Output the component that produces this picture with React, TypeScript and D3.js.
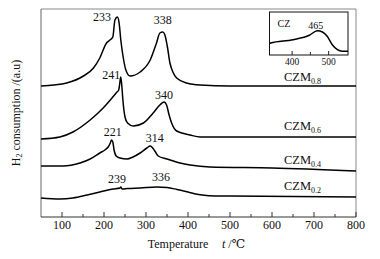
import React from "react";
import * as d3 from "d3";

// ---- data (temperature °C, H2 consumption a.u.) ----
const czm08T = [50, 80, 111, 151, 175, 190, 206, 214, 221, 226, 232, 236, 240, 246, 252, 262, 286, 310, 325, 333, 340, 345, 351, 357, 364, 373, 397, 429, 500, 600, 800];
const czm08V = [131, 132, 134, 141, 149, 159, 174, 177, 180, 197, 200, 194, 177, 159, 147, 141, 145, 157, 174, 184, 185, 182, 170, 154, 145, 139, 134, 132, 131, 131, 131];

const czm06T = [50, 95, 126, 167, 198, 219, 231, 235, 237, 240, 243, 245, 250, 256, 270, 294, 317, 333, 343, 349, 355, 361, 373, 405, 429, 600, 800];
const czm06V = [78, 80, 85, 97, 109, 119, 125, 127, 132, 140, 128, 117, 100, 94, 91, 94, 104, 112, 115, 112, 102, 94, 86, 82, 80, 80, 80];

const czm04T = [50, 102, 143, 167, 190, 202, 210, 215, 218, 221, 224, 229, 238, 255, 269, 286, 302, 310, 321, 329, 350, 381, 405, 452, 600, 800];
const czm04V = [51, 51, 54, 58, 64, 67, 70, 74, 77, 75, 67, 61, 59, 58, 60, 64, 69, 71, 66, 61, 58, 54, 52, 50, 49, 46];

const czm02T = [50, 95, 126, 160, 190, 221, 238, 240, 243, 246, 255, 286, 326, 350, 374, 400, 425, 450, 500, 800];
const czm02V = [19, 18, 19, 22, 25, 28, 29, 30, 28, 28, 28.5, 29, 30, 29.5, 27.5, 25, 22.5, 21.3, 21, 20];

const czT = [338, 341, 402, 447, 469, 483, 496, 510, 524, 537, 553];
const czV = [11.5, 12, 15.3, 19.7, 24.3, 23, 18.7, 10.3, 5.3, 3.7, 3.7];

const seriesNames = ["0.8", "0.6", "0.4", "0.2"];
const seriesT = [czm08T, czm06T, czm04T, czm02T];
const seriesV = [czm08V, czm06V, czm04V, czm02V];

const peakText = ["233", "338", "241", "340", "221", "314", "239", "336"];
const peakT = [195, 340, 217, 343, 221, 321, 231, 336];
const peakV = [196, 193, 138, 118, 81, 75, 34, 36];

const xTicks = [100, 200, 300, 400, 500, 600, 700, 800];
const xMinorTicks = [150, 250, 350, 450, 550, 650, 750];
const insetTicks = [400, 500];
const insetMinor = [450];

const W = 380;
const H = 259;
const serif = "'Liberation Serif', 'DejaVu Serif', serif";

export default function App() {
  const m = { left: 41, right: 356, top: 9, bottom: 217 };
  const x = d3.scaleLinear().domain([50, 800]).range([m.left, m.right]);
  const y = d3.scaleLinear().domain([0, 208]).range([m.bottom, m.top]);

  const ib = { left: 269.5, right: 348, top: 12, bottom: 55 };
  const xi = d3.scaleLinear().domain([338, 553]).range([ib.left, ib.right]);
  const yi = d3.scaleLinear().domain([0, 43]).range([ib.bottom, ib.top]);

  const line = d3
    .line<[number, number]>()
    .x((d) => x(d[0]))
    .y((d) => y(d[1]))
    .curve(d3.curveMonotoneX);
  const lineI = d3
    .line<[number, number]>()
    .x((d) => xi(d[0]))
    .y((d) => yi(d[1]))
    .curve(d3.curveMonotoneX);

  const ts = { fontFamily: serif };

  return (
    <svg
      width={W}
      height={H}
      style={{ position: "absolute", left: 0, top: 0, background: "#fff", fontFamily: serif }}
    >
      <rect x={0} y={0} width={W} height={H} fill="#fff" />
      {/* frame */}
      <line x1={m.left} x2={m.right} y1={m.top} y2={m.top} stroke="#888" strokeWidth={1} />
      <line x1={m.right} x2={m.right} y1={m.top} y2={m.bottom} stroke="#888" strokeWidth={1} />
      <line x1={m.left} x2={m.left} y1={m.top} y2={m.bottom} stroke="#666" strokeWidth={1} />
      <line x1={m.left} x2={m.right} y1={m.bottom} y2={m.bottom} stroke="#333" strokeWidth={1} />
      {xTicks.map((t) => (
        <g key={"t" + t}>
          <line x1={x(t)} x2={x(t)} y1={m.bottom} y2={m.bottom - 5} stroke="#333" />
          <text x={x(t)} y={229} fontSize={12} textAnchor="middle" fill="#111" style={ts}>
            {t}
          </text>
        </g>
      ))}
      {xMinorTicks.map((t) => (
        <line key={"m" + t} x1={x(t)} x2={x(t)} y1={m.bottom} y2={m.bottom - 3} stroke="#333" />
      ))}

      {/* curves */}
      {seriesT.map((tt, i) => (
        <path
          key={"s" + i}
          d={line(tt.map((t, j) => [t, seriesV[i][j]]) as [number, number][]) || ""}
          fill="none"
          stroke="#000"
          strokeWidth={1.5}
        />
      ))}
      {seriesT.map((tt, i) => {
        const yy = y(seriesV[i][seriesV[i].length - 1]) - (i === 0 ? 5 : 7);
        return (
          <text key={"l" + i} x={284} y={yy} fontSize={12.5} fill="#111" style={ts}>
            CZM
            <tspan fontSize={8} dy={3}>
              {seriesNames[i]}
            </tspan>
          </text>
        );
      })}
      {peakText.map((s, i) => (
        <text key={"p" + i} x={x(peakT[i])} y={y(peakV[i])} fontSize={12} textAnchor="middle" fill="#111" style={ts}>
          {s}
        </text>
      ))}

      {/* inset */}
      <rect
        x={ib.left}
        y={ib.top}
        width={ib.right - ib.left}
        height={ib.bottom - ib.top}
        fill="#fff"
        stroke="#111"
        strokeWidth={1}
      />
      <path
        d={lineI(czT.map((t, j) => [t, czV[j]]) as [number, number][]) || ""}
        fill="none"
        stroke="#000"
        strokeWidth={1.5}
      />
      {insetTicks.map((t) => (
        <g key={"it" + t}>
          <line x1={xi(t)} x2={xi(t)} y1={ib.bottom} y2={ib.bottom - 4} stroke="#222" />
          <text x={xi(t)} y={65} fontSize={9.5} textAnchor="middle" fill="#111" style={ts}>
            {t}
          </text>
        </g>
      ))}
      {insetMinor.map((t) => (
        <line key={"im" + t} x1={xi(t)} x2={xi(t)} y1={ib.bottom} y2={ib.bottom - 3} stroke="#222" />
      ))}
      <text x={284} y={27} fontSize={10} textAnchor="middle" fill="#111" style={ts}>
        CZ
      </text>
      <text x={xi(465)} y={28.5} fontSize={10} textAnchor="middle" fill="#111" style={ts}>
        465
      </text>

      {/* axis titles */}
      <text x={178} y={248} fontSize={12} textAnchor="middle" fill="#111" style={ts}>
        Temperature
      </text>
      <text x={222} y={248} fontSize={12} fill="#111" style={ts}>
        <tspan fontStyle="italic">t</tspan> /℃
      </text>
      <text transform={`translate(20,${113}) rotate(-90)`} fontSize={12} textAnchor="middle" fill="#111" style={ts}>
        H
        <tspan fontSize={8} dy={2}>
          2
        </tspan>
        <tspan dy={-2}> consumption /(a.u)</tspan>
      </text>
    </svg>
  );
}
